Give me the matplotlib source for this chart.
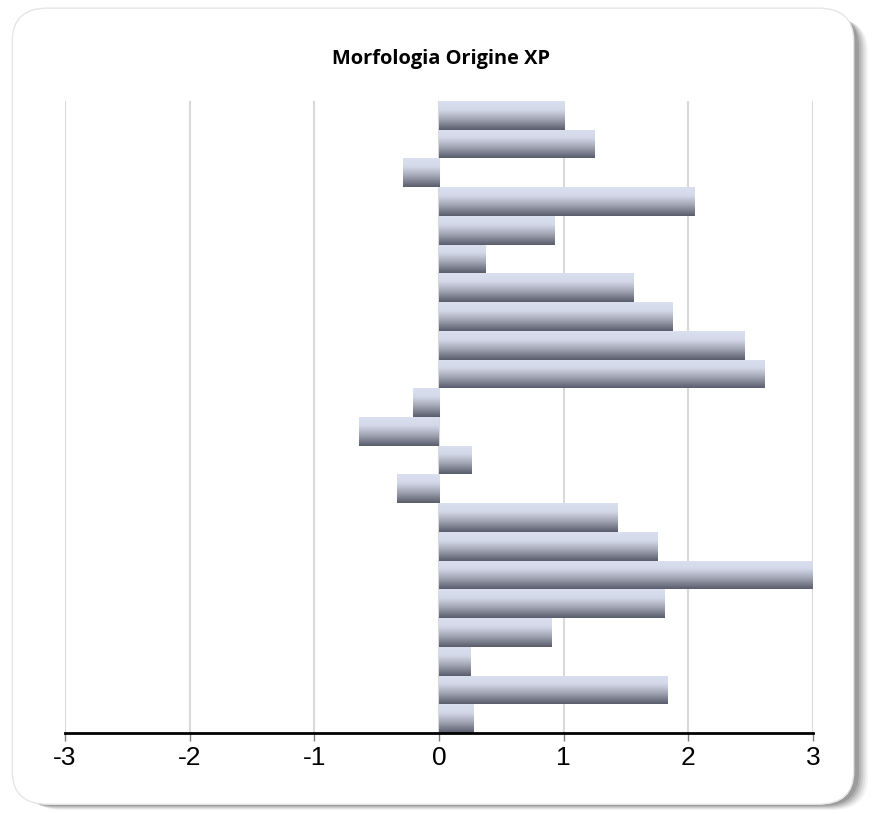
import numpy as np
import matplotlib.pyplot as plt
from matplotlib.patches import FancyBboxPatch
from matplotlib.colors import LinearSegmentedColormap

title = "Morfologia Origine XP"
# values top to bottom
values = [1.01, 1.25, -0.29, 2.05, 0.93, 0.37, 1.56, 1.87, 2.45, 2.61,
          -0.21, -0.64, 0.26, -0.34, 1.43, 1.75, 3.0, 1.81, 0.90, 0.25,
          1.83, 0.28]
xticks = [-3, -2, -1, 0, 1, 2, 3]

fig = plt.figure(figsize=(8.81, 8.14), dpi=100)

# rounded card with soft shadow
for i, a in enumerate([0.05, 0.07, 0.09, 0.11, 0.13]):
    off = 0.014 - i * 0.0025
    sh = FancyBboxPatch((0.016 + off, 0.012 - off * 0.5), 0.955, 0.972,
                        boxstyle="round,pad=0,rounding_size=0.04",
                        transform=fig.transFigure, facecolor="black",
                        edgecolor="none", alpha=a, zorder=0)
    fig.patches.append(sh)
card = FancyBboxPatch((0.014, 0.012), 0.955, 0.978,
                      boxstyle="round,pad=0,rounding_size=0.04",
                      transform=fig.transFigure, facecolor="white",
                      edgecolor="#e6e6e6", linewidth=1, zorder=1)
fig.patches.append(card)

ax = fig.add_axes([0.0738, 0.0995, 0.8490, 0.7764])
ax.set_facecolor("none")
ax.set_zorder(2)

y = np.arange(len(values))
bars = ax.barh(y, values, height=1.0, color="none", edgecolor="none", zorder=3)

cmap = LinearSegmentedColormap.from_list(
    "bar", [(0, "#dbe0f1"), (0.3, "#d3d8e8"), (0.6, "#a5a9b8"), (1, "#5a5e6c")])
grad = np.linspace(0, 1, 64).reshape(-1, 1)
for b in bars:
    x0, y0 = b.get_x(), b.get_y()
    w, h = b.get_width(), b.get_height()
    im = ax.imshow(grad, cmap=cmap, aspect="auto",
                   extent=(min(x0, x0 + w), max(x0, x0 + w), y0 + h, y0),
                   zorder=3, interpolation="bilinear")
    im.set_clip_path(b)

ax.set_xlim(-3, 3)
ax.set_ylim(len(values) - 0.5, -0.5)
ax.set_xticks(xticks)
ax.set_xticklabels([str(t) for t in xticks])
for lab in ax.get_xticklabels():
    lab.set_fontsize(19)
    lab.set_family("Liberation Sans")
ax.set_yticks([])
ax.grid(axis="x", color="#d9d9d9", linewidth=1.5, zorder=1)
for s in ["top", "right", "left"]:
    ax.spines[s].set_visible(False)
ax.spines["bottom"].set_linewidth(2)
ax.spines["bottom"].set_zorder(5)
ax.tick_params(axis="x", length=6, width=1, color="#808080", pad=3)

fig.text(0.5, 0.928, title, ha="center", va="center", fontsize=14.4,
         fontweight="bold", family="Open Sans", zorder=3)

fig.savefig("out.png", dpi=100)
